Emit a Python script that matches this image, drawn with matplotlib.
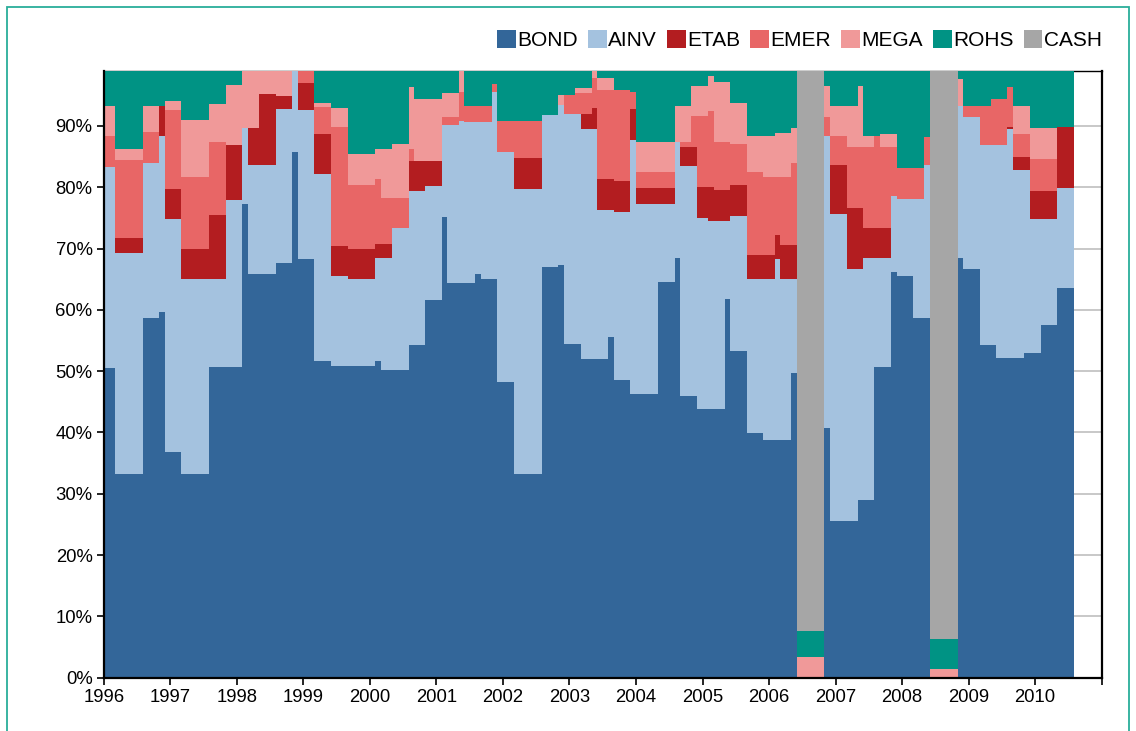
import matplotlib
matplotlib.use("Agg")
import matplotlib.pyplot as plt
import numpy as np
from matplotlib.patches import Rectangle

plt.rcParams["font.family"] = ["Liberation Sans", "DejaVu Sans"]

# month in which each allocation starts; the last one holds until END
starts = [
    "1996-01", "1996-03", "1996-08", "1996-11", "1996-12", "1997-03", "1997-08", "1997-11",
    "1998-02", "1998-03", "1998-05", "1998-08", "1998-11", "1998-12", "1999-03", "1999-06",
    "1999-09", "2000-02", "2000-03", "2000-05", "2000-08", "2000-09", "2000-11", "2001-02",
    "2001-03", "2001-05", "2001-06", "2001-08", "2001-09", "2001-11", "2001-12", "2002-03",
    "2002-08", "2002-11", "2002-12", "2003-02", "2003-03", "2003-05", "2003-06", "2003-08",
    "2003-09", "2003-12", "2004-01", "2004-05", "2004-08", "2004-09", "2004-11", "2004-12",
    "2005-02", "2005-03", "2005-05", "2005-06", "2005-09", "2005-12", "2006-02", "2006-03",
    "2006-05", "2006-06", "2006-11", "2006-12", "2007-03", "2007-05", "2007-06", "2007-08",
    "2007-09", "2007-11", "2007-12", "2008-03", "2008-05", "2008-06", "2008-11", "2008-12",
    "2009-03", "2009-05", "2009-06", "2009-08", "2009-09", "2009-11", "2009-12", "2010-02",
    "2010-05",
]
END = "2010-08"

# weights in %
bond = [
    50.5, 33.3, 58.7, 59.7, 36.8, 33.3, 50.7, 50.7,
    77.2, 65.9, 65.9, 67.7, 85.8, 68.3, 51.7, 50.9,
    50.8, 51.6, 50.2, 50.2, 54.2, 54.2, 61.6, 75.2,
    64.4, 64.4, 64.4, 65.8, 65.1, 65.1, 48.2, 33.3,
    67.0, 67.3, 54.4, 54.4, 51.9, 51.9, 51.9, 55.5,
    48.6, 46.2, 46.2, 64.6, 68.5, 46.0, 46.0, 43.9,
    43.9, 43.9, 61.8, 53.3, 39.9, 38.7, 38.7, 38.7,
    49.7, 0.0, 40.7, 25.5, 25.5, 29.0, 29.0, 50.7,
    50.7, 66.2, 65.5, 58.6, 58.6, 0.0, 68.4, 66.6,
    54.2, 54.2, 52.1, 52.1, 52.1, 52.9, 52.9, 57.6,
    63.5,
]
ainv = [
    32.8, 35.9, 25.3, 28.7, 38.0, 31.7, 14.3, 27.2,
    12.5, 17.8, 17.8, 25.0, 14.2, 24.3, 30.4, 14.6,
    14.2, 16.9, 18.3, 23.2, 25.2, 25.2, 18.6, 15.0,
    25.8, 26.4, 26.3, 24.9, 25.6, 30.5, 37.6, 46.4,
    24.7, 26.1, 37.5, 37.5, 37.6, 37.6, 24.3, 20.7,
    27.4, 41.5, 31.0, 12.6, 18.9, 37.4, 37.4, 31.1,
    30.6, 30.6, 12.7, 22.0, 25.1, 26.3, 29.6, 26.3,
    15.3, 0.0, 47.6, 50.1, 41.1, 37.6, 39.4, 17.7,
    17.7, 12.3, 12.5, 19.4, 25.0, 0.0, 24.9, 24.9,
    32.6, 32.6, 34.7, 37.4, 30.7, 29.9, 21.9, 17.2,
    16.4,
]
etab = [
    0.0, 2.5, 0.0, 4.9, 4.9, 5.0, 10.4, 8.9,
    0.0, 6.0, 11.5, 2.2, 0.0, 4.4, 6.5, 4.9,
    4.9, 2.3, 2.3, 0.0, 4.9, 4.9, 4.1, 0.0,
    0.0, 0.0, 0.0, 0.0, 0.0, 0.0, 0.0, 5.0,
    0.0, 0.0, 0.0, 0.0, 2.4, 3.4, 5.1, 5.1,
    5.0, 5.0, 2.6, 2.6, 0.0, 3.1, 3.1, 5.0,
    5.5, 5.0, 5.0, 5.0, 3.9, 3.9, 3.9, 5.5,
    5.5, 0.0, 0.0, 8.0, 10.0, 10.0, 4.9, 4.9,
    4.9, 0.0, 0.0, 0.0, 0.0, 0.0, 0.0, 0.0,
    0.0, 0.0, 0.0, 0.3, 2.1, 2.1, 4.6, 4.6,
    9.9,
]
emer = [
    5.1, 12.8, 5.0, 0.0, 12.9, 11.7, 12.0, 0.0,
    0.0, 0.0, 0.0, 0.0, 0.0, 3.0, 4.4, 19.4,
    10.5, 10.5, 7.5, 4.9, 1.9, 0.0, 0.0, 1.3,
    1.3, 4.8, 2.6, 2.6, 2.6, 1.2, 5.0, 6.1,
    0.0, 0.0, 3.1, 3.4, 3.4, 4.9, 14.5, 14.5,
    14.8, 2.8, 2.6, 2.6, 0.0, 0.8, 5.1, 11.6,
    12.4, 7.8, 7.8, 6.8, 13.6, 12.8, 9.5, 11.2,
    13.4, 0.0, 3.2, 4.7, 10.0, 10.0, 13.3, 15.1,
    13.3, 8.1, 5.2, 5.2, 4.6, 0.0, 0.0, 1.8,
    6.5, 7.6, 7.6, 6.6, 3.8, 3.8, 5.2, 5.2,
    0.0,
]
mega = [
    4.9, 1.7, 4.3, 0.0, 1.4, 9.3, 6.1, 9.9,
    10.3, 10.3, 4.8, 5.1, 0.0, 0.0, 0.7, 3.1,
    5.0, 5.0, 8.0, 8.7, 10.1, 10.1, 10.1, 3.9,
    3.9, 4.4, 0.0, 0.0, 0.0, 0.0, 0.0, 0.0,
    0.0, 1.6, 0.0, 0.8, 0.8, 2.2, 2.0, 2.0,
    0.0, 0.0, 5.0, 5.0, 5.9, 6.0, 4.9, 4.9,
    5.8, 9.9, 9.9, 6.6, 5.9, 6.7, 7.2, 7.2,
    5.7, 3.4, 5.0, 5.0, 6.7, 9.9, 1.8, 0.0,
    2.0, 2.0, 0.0, 0.0, 0.0, 1.4, 4.3, 0.0,
    0.0, 0.0, 0.0, 0.0, 4.6, 4.6, 5.0, 5.0,
    0.0,
]
rohs = [
    6.7, 13.8, 6.7, 6.7, 6.0, 9.0, 6.5, 3.3,
    0.0, 0.0, 0.0, 0.0, 0.0, 0.0, 6.3, 7.1,
    14.6, 13.7, 13.7, 13.0, 3.7, 5.6, 5.6, 4.6,
    4.6, 0.0, 6.7, 6.7, 6.7, 3.2, 9.2, 9.2,
    8.3, 5.0, 5.0, 3.9, 3.9, 0.0, 2.2, 2.2,
    4.2, 4.5, 12.6, 12.6, 6.7, 6.7, 3.5, 3.5,
    1.8, 2.8, 2.8, 6.3, 11.6, 11.6, 11.1, 11.1,
    10.4, 4.2, 3.5, 6.7, 6.7, 3.5, 11.6, 11.6,
    11.4, 11.4, 16.8, 16.8, 11.8, 4.9, 2.4, 6.7,
    6.7, 5.6, 5.6, 3.6, 6.7, 6.7, 10.4, 10.4,
    10.2,
]
cash = [0.0] * len(starts)
cash[starts.index("2006-06")] = 92.4
cash[starts.index("2008-06")] = 93.7

names = ["BOND", "AINV", "ETAB", "EMER", "MEGA", "ROHS", "CASH"]
colors = ["#336699", "#A4C2DF", "#B31D20", "#E86666", "#F09999", "#009384", "#A6A6A6"]


def to_year(s):
    y, m = s.split("-")
    return int(y) + (int(m) - 1) / 12.0


edges = np.array([to_year(s) for s in starts] + [to_year(END)])
series = [bond, ainv, etab, emer, mega, rohs, cash]

fig = plt.figure(figsize=(11.36, 7.31), dpi=100)
ax = fig.add_axes([0.0913, 0.0729, 0.8785, 0.8304])

base = np.zeros(len(starts))
for vals, name, col in zip(series, names, colors):
    top = base + np.array(vals) / 100.0
    ax.stairs(top, edges, baseline=base, fill=True, color=col, lw=0, label=name, zorder=2)
    base = top

ax.set_xlim(1996, 2011)
ax.set_ylim(0, 0.99)
ax.set_xticks(np.arange(1996, 2012))
ax.set_xticklabels([str(y) for y in range(1996, 2011)] + [""])
ax.set_yticks(np.arange(0, 1.0, 0.1))
ax.set_yticklabels([f"{int(round(v * 100))}%" for v in np.arange(0, 1.0, 0.1)])
ax.tick_params(direction="out", length=5, width=1.2, labelsize=13.3, pad=3)

ax.yaxis.grid(True, color="#BFBFBF", lw=1.2)
ax.set_axisbelow(True)
for side in ["left", "bottom", "right"]:
    ax.spines[side].set_linewidth(1.6)
    ax.spines[side].set_zorder(3)
ax.spines["top"].set_linewidth(1.0)
ax.spines["top"].set_zorder(1)

leg = fig.legend(loc="center right", bbox_to_anchor=(0.977, 0.945), ncol=7, frameon=False,
                 fontsize=15, handlelength=0.9, handleheight=0.9, handletextpad=0.05,
                 columnspacing=0.5, borderaxespad=0)

fig.add_artist(Rectangle((6.5 / 1136, -0.01), (1129 - 6.5) / 1136, 1 - 6.5 / 731 + 0.01,
                         transform=fig.transFigure, fill=False, edgecolor="#2AAE9A", lw=1.3))

fig.savefig("out.png", dpi=100)
